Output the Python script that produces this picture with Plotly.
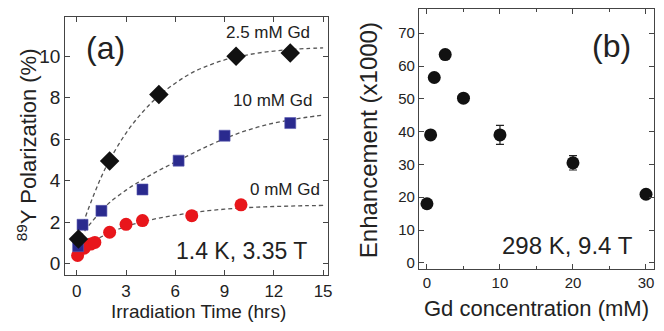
import plotly.graph_objects as go

# ---- Panel (a): 89Y polarization vs irradiation time ----
t_25 = [0.1, 2.0, 5.0, 9.7, 13.0]
p_25 = [1.2, 4.95, 8.15, 10.0, 10.15]
t_10 = [0.08, 0.35, 1.5, 4.0, 6.2, 9.0, 13.0]
p_10 = [0.85, 1.88, 2.55, 3.58, 4.97, 6.17, 6.78]
t_0 = [0.05, 0.45, 0.85, 1.1, 2.0, 3.0, 4.0, 7.0, 10.0]
p_0 = [0.4, 0.75, 0.95, 1.03, 1.52, 1.9, 2.08, 2.32, 2.84]

# fit curves
fit_t = [0, 0.5, 1, 1.5, 2, 3, 4, 5, 6, 7, 8, 9, 10, 11, 12, 13, 14, 15]
fit_25 = [1.0, 2.2, 3.25, 4.2, 5.0, 6.3, 7.3, 8.1, 8.7, 9.2, 9.55, 9.82, 10.0, 10.15, 10.25, 10.32, 10.37, 10.4]
fit_10 = [1.0, 1.6, 2.1, 2.55, 2.95, 3.55, 4.05, 4.5, 4.9, 5.3, 5.68, 6.03, 6.33, 6.58, 6.78, 6.93, 7.06, 7.16]
fit_0 = [0.45, 0.78, 1.05, 1.3, 1.5, 1.8, 2.02, 2.2, 2.34, 2.46, 2.56, 2.63, 2.69, 2.73, 2.76, 2.78, 2.8, 2.81]

x_ticks_a = [0, 3, 6, 9, 12, 15]
y_ticks_a = [0, 2, 4, 6, 8, 10]

# ---- Panel (b): enhancement vs Gd concentration ----
gd_conc = [0, 0.5, 1.0, 2.5, 5.0, 10.0, 20.0, 30.0]
enhancement = [18.0, 39.0, 56.5, 63.5, 50.2, 39.0, 30.5, 20.9]
enh_err = [0, 0, 0, 0, 0, 2.9, 2.2, 0]

x_ticks_b = [0, 10, 20, 30]
y_ticks_b = [0, 10, 20, 30, 40, 50, 60, 70]

FONT = "Liberation Sans, Arial, sans-serif"
dash_line = dict(color="#555555", width=1.3, dash="4px,3px")

# page body has an 8px margin; keep the figure inside the visible window
OFF = 8
W, H = 648, 315


def px(x):
    return (x - OFF) / (664 - OFF)


def py(y):
    return 1 - (y - OFF) / (331 - OFF)


fig = go.Figure()

for ft, fy in [(fit_t, fit_0), (fit_t, fit_10), (fit_t, fit_25)]:
    fig.add_trace(go.Scatter(x=ft, y=fy, mode="lines", line=dict(shape="spline", **dash_line),
                             xaxis="x", yaxis="y", showlegend=False, hoverinfo="skip"))

fig.add_trace(go.Scatter(x=t_0, y=p_0, mode="markers", xaxis="x", yaxis="y", showlegend=False,
                         marker=dict(symbol="circle", size=13, color="#e8161b", line=dict(width=0))))
fig.add_trace(go.Scatter(x=t_10, y=p_10, mode="markers", xaxis="x", yaxis="y", showlegend=False,
                         marker=dict(symbol="square", size=11, color="#2a2a8e", line=dict(width=0.6, color="#5a5ab0"))))
fig.add_trace(go.Scatter(x=t_25, y=p_25, mode="markers", xaxis="x", yaxis="y", showlegend=False,
                         marker=dict(symbol="diamond", size=15, color="#111111", line=dict(width=0))))

fig.add_trace(go.Scatter(x=gd_conc, y=enhancement, mode="markers", xaxis="x2", yaxis="y2", showlegend=False,
                         marker=dict(symbol="circle", size=13, color="#111111", line=dict(width=0)),
                         error_y=dict(type="data", array=enh_err, color="#222222", thickness=1.2, width=4)))

axis_common = dict(showline=True, linecolor="#444444", linewidth=1.2, mirror="ticks", ticks="inside",
                   ticklen=5, tickcolor="#444444", showgrid=False, zeroline=False, automargin=False)

fig.update_layout(
    width=W, height=H, margin=dict(l=0, r=0, t=0, b=0),
    paper_bgcolor="white", plot_bgcolor="white", template="none",
    font=dict(family=FONT, color="#222222"),
    xaxis=dict(domain=[px(66), px(332)], range=[-0.7, 15.3], tickvals=x_ticks_a, anchor="y",
               tickfont=dict(family=FONT, size=17, color="#222222"), **axis_common),
    yaxis=dict(domain=[py(282), py(17)], range=[-0.55, 11.9], tickvals=y_ticks_a, anchor="x",
               tickfont=dict(family=FONT, size=19, color="#222222"), **axis_common),
    xaxis2=dict(domain=[px(424), px(662)], range=[-1.1, 31.1], tickvals=x_ticks_b, anchor="y2",
                minor=dict(dtick=5, tick0=0, ticks="inside", ticklen=3, tickcolor="#444444"),
                tickfont=dict(family=FONT, size=15, color="#222222"), **axis_common),
    yaxis2=dict(domain=[py(276), py(9)], range=[-2, 77.4], tickvals=y_ticks_b, anchor="x2",
                tickfont=dict(family=FONT, size=15, color="#222222"), **axis_common),
)

ann = [
    dict(text="(a)", x=107, y=49, size=32),
    dict(text="(b)", x=619, y=47, size=32),
    dict(text="2.5 mM Gd", x=271, y=33, size=17),
    dict(text="10 mM Gd", x=276, y=103, size=17),
    dict(text="0 mM Gd", x=288, y=194, size=17),
    dict(text="1.4 K, 3.35 T", x=244, y=257, size=23),
    dict(text="298 K, 9.4 T", x=574, y=252, size=24),
    dict(text="Irradiation Time (hrs)", x=201, y=319, size=19),
    dict(text="Gd concentration (mM)", x=543, y=316, size=22),
]
for a in ann:
    fig.add_annotation(text=a["text"], x=px(a["x"]), y=py(a["y"]), xref="paper", yref="paper",
                       showarrow=False, xanchor="center", yanchor="middle",
                       font=dict(family=FONT, size=a["size"], color="#222222"))

fig.add_annotation(text="<sup>89</sup>Y Polarization (%)", x=px(27), y=py(148), xref="paper", yref="paper",
                   showarrow=False, textangle=-90, xanchor="center", yanchor="middle",
                   font=dict(family=FONT, size=22, color="#222222"))
fig.add_annotation(text="Enhancement (x1000)", x=px(373), y=py(144), xref="paper", yref="paper",
                   showarrow=False, textangle=-90, xanchor="center", yanchor="middle",
                   font=dict(family=FONT, size=24, color="#222222"))

fig.write_html("out.html")
